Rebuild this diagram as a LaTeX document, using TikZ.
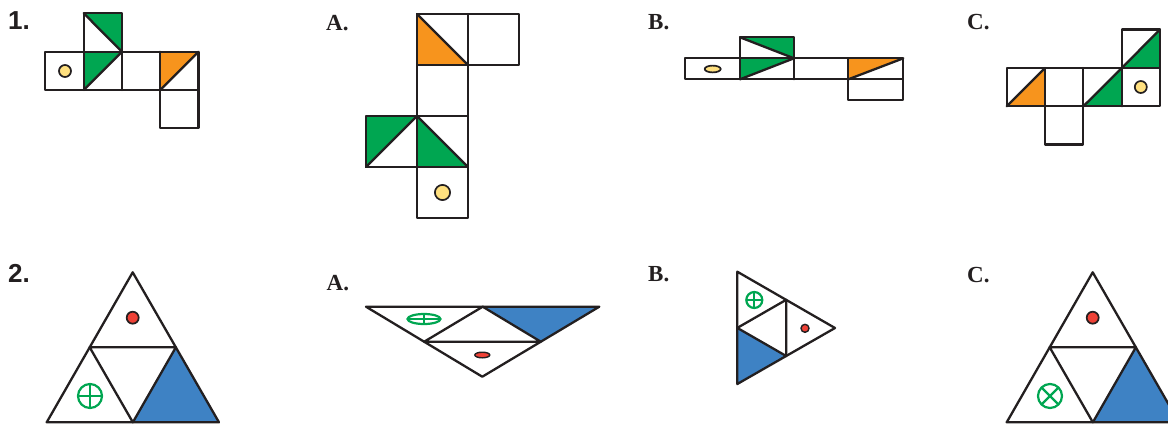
\documentclass[tikz,border=0pt]{standalone}
\usepackage{fontspec}
\setmainfont{Liberation Serif}
\newfontfamily\numfont{Liberation Sans}
\definecolor{ink}{HTML}{231F20}
\definecolor{grn}{HTML}{00A651}
\definecolor{org}{HTML}{F7941D}
\definecolor{ylw}{HTML}{FFE07F}
\definecolor{rd}{HTML}{EF4136}
\definecolor{blu}{HTML}{3E82C4}
\tikzset{
  ln/.style={draw=ink, line width=2.3pt, line join=round, line cap=round},
  dotst/.style={draw=ink, line width=1.7pt},
  mark2/.style={draw=grn, line width=2.2pt},
  numlab/.style={anchor=base west, inner sep=0pt, font=\numfont\fontsize{26}{26}\selectfont\bfseries, text=ink},
  letlab/.style={anchor=base west, inner sep=0pt, font=\fontsize{23}{23}\selectfont\bfseries, text=ink}
}
\begin{document}
\begin{tikzpicture}[x=1pt,y=-1pt]
\useasboundingbox (0,0) rectangle (1168,424);
\clip (0,0) rectangle (1168,424);
% labels
\node[numlab] (l1) at (8,29) {1.};
\node[letlab] (lA1) at (326,30) {A.};
\node[letlab] (lB1) at (648,29) {B.};
\node[letlab] (lC1) at (967,29) {C.};
\node[numlab] (l2) at (8,282) {2.};
\node[letlab] (lA2) at (326.5,290) {A.};
\node[letlab] (lB2) at (648,281) {B.};
\node[letlab] (lC2) at (967,282) {C.};

% ---------- Net 1 ----------
\fill[grn] (83.7,13.3) -- (122,13.3) -- (122,51.7) -- cycle;
\fill[grn] (83.7,51.7) -- (122,51.7) -- (83.7,90) -- cycle;
\fill[org] (160.3,51.7) -- (198.6,51.7) -- (160.3,90) -- cycle;
\draw[ln] (83.7,13.3) rectangle (122,51.7);
\draw[ln] (45.3,51.7) rectangle (198.6,90);
\draw[ln] (83.7,51.7) -- (83.7,90) (122,51.7) -- (122,90) (160.3,51.7) -- (160.3,90);
\draw[ln] (160.3,90) rectangle (198.6,128.3);
\draw[ln] (83.7,13.3) -- (122,51.7) (83.7,90) -- (122,51.7) (160.3,90) -- (198.6,51.7);
\draw[dotst, fill=ylw] (65,71) circle[radius=6pt];

% ---------- Net A ----------
\fill[org] (417,14) -- (417,65) -- (468,65) -- cycle;
\fill[grn] (366,116) -- (417,116) -- (366,167) -- cycle;
\fill[grn] (417,116) -- (417,167) -- (468,167) -- cycle;
\draw[ln] (417,14) rectangle (519,65);
\draw[ln] (468,14) -- (468,65);
\draw[ln] (417,65) rectangle (468,116);
\draw[ln] (366,116) rectangle (468,167);
\draw[ln] (417,116) -- (417,167);
\draw[ln] (417,167) rectangle (468,218);
\draw[ln] (417,14) -- (468,65) (366,167) -- (417,116) (417,116) -- (468,167);
\draw[dotst, fill=ylw] (442.5,192.5) circle[radius=7.6pt];

% ---------- Net B ----------
\fill[grn] (740,37.3) -- (794,37.3) -- (794,58.3) -- cycle;
\fill[grn] (740,58.3) -- (794,58.3) -- (740,79.3) -- cycle;
\fill[org] (848.3,58.3) -- (903.3,58.3) -- (848.3,79.3) -- cycle;
\draw[ln] (740,37.3) rectangle (794,58.3);
\draw[ln] (685.3,58.3) rectangle (903.3,79.3);
\draw[ln] (740,58.3) -- (740,79.3) (794,58.3) -- (794,79.3) (848.3,58.3) -- (848.3,79.3);
\draw[ln] (848.3,79.3) rectangle (903.3,100);
\draw[ln] (740,37.3) -- (794,58.3) (740,79.3) -- (794,58.3) (848.3,79.3) -- (903.3,58.3);
\draw[dotst, fill=ylw] (712.7,69) ellipse[x radius=8pt, y radius=3.4pt];

% ---------- Net C ----------
\fill[grn] (1160,29.5) -- (1160,68) -- (1121.7,68) -- cycle;
\fill[org] (1045,68) -- (1045,106.3) -- (1006.7,106.3) -- cycle;
\fill[grn] (1121.7,68) -- (1121.7,106.3) -- (1083.3,106.3) -- cycle;
\draw[ln] (1121.7,29.5) rectangle (1160,68);
\draw[ln] (1006.7,68) rectangle (1160,106.3);
\draw[ln] (1045,68) -- (1045,106.3) (1083.3,68) -- (1083.3,106.3) (1121.7,68) -- (1121.7,106.3);
\draw[ln] (1045,106.3) rectangle (1083.3,144.6);
\draw[ln] (1121.7,68) -- (1160,29.5) (1006.7,106.3) -- (1045,68) (1083.3,106.3) -- (1121.7,68);
\draw[dotst, fill=ylw] (1140.8,87) circle[radius=6pt];

% ---------- Triangle 2 ----------
\fill[blu] (175.85,347.3) -- (219,422.3) -- (132.85,422.3) -- cycle;
\draw[ln] (132.7,272.3) -- (219,422.3) -- (46.7,422.3) -- cycle;
\draw[ln] (89.7,347.3) -- (175.85,347.3) -- (132.85,422.3) -- cycle;
\draw[dotst, fill=rd] (132.7,317.7) circle[radius=6pt];
\draw[mark2] (90,396) circle[radius=12pt];
\draw[mark2] (78,396) -- (102,396) (90,384) -- (90,408);

% ---------- Triangle A ----------
\fill[blu] (482.7,306.7) -- (599.3,306.7) -- (540.8,341.7) -- cycle;
\draw[ln] (366,306.7) -- (599.3,306.7) -- (482.3,376.7) -- cycle;
\draw[ln] (482.7,306.7) -- (540.8,341.7) -- (424.2,341.7) -- cycle;
\draw[mark2] (424,319) ellipse[x radius=16.5pt, y radius=5pt];
\draw[mark2] (407.5,319) -- (440.5,319) (424,314) -- (424,324);
\draw[dotst, line width=1.4pt, fill=rd] (482.3,355) ellipse[x radius=7.5pt, y radius=2.8pt];

% ---------- Triangle B ----------
\fill[blu] (737.3,327.9) -- (786.2,356) -- (737.3,384) -- cycle;
\draw[ln] (737.3,271.7) -- (835,328) -- (737.3,384) -- cycle;
\draw[ln] (737.3,327.9) -- (786.2,299.8) -- (786.2,356) -- cycle;
\draw[mark2] (754.3,300) circle[radius=8pt];
\draw[mark2] (746.3,300) -- (762.3,300) (754.3,292) -- (754.3,308);
\draw[dotst, line width=1.4pt, fill=rd] (805,328.3) circle[radius=4pt];

% ---------- Triangle C ----------
\fill[blu] (1135.85,347.3) -- (1179,422.3) -- (1092.85,422.3) -- cycle;
\draw[ln] (1092.7,272.3) -- (1179,422.3) -- (1006.7,422.3) -- cycle;
\draw[ln] (1049.7,347.3) -- (1135.85,347.3) -- (1092.85,422.3) -- cycle;
\draw[dotst, fill=rd] (1092.7,317.7) circle[radius=6pt];
\draw[mark2] (1050,396) circle[radius=12pt];
\draw[mark2] (1041.5,387.5) -- (1058.5,404.5) (1041.5,404.5) -- (1058.5,387.5);
\end{tikzpicture}
\end{document}
